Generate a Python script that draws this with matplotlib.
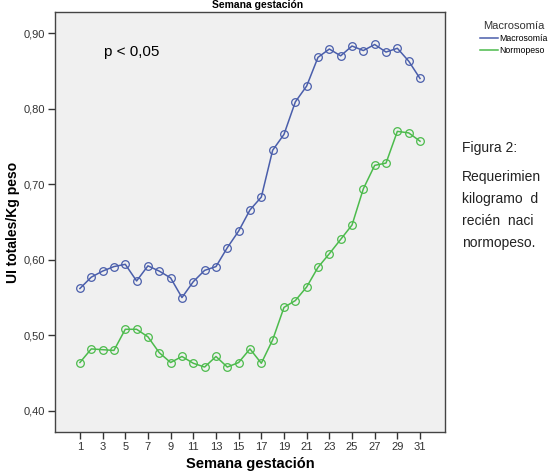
import matplotlib.pyplot as plt

semanas = list(range(1, 32))
macrosomia = [0.562, 0.577, 0.585, 0.591, 0.594, 0.572, 0.592, 0.585, 0.576, 0.550,
              0.571, 0.586, 0.591, 0.616, 0.638, 0.666, 0.683, 0.745, 0.766, 0.809,
              0.830, 0.868, 0.879, 0.870, 0.883, 0.877, 0.885, 0.875, 0.880, 0.863,
              0.840]
normopeso = [0.464, 0.482, 0.481, 0.480, 0.508, 0.508, 0.498, 0.477, 0.464, 0.472,
             0.463, 0.458, 0.472, 0.458, 0.464, 0.482, 0.463, 0.494, 0.537, 0.546,
             0.564, 0.590, 0.608, 0.627, 0.646, 0.694, 0.725, 0.728, 0.770, 0.768,
             0.757]
yticks = [0.40, 0.50, 0.60, 0.70, 0.80, 0.90]
ytick_labels = ["0,40", "0,50", "0,60", "0,70", "0,80", "0,90"]
xticks = list(range(1, 32, 2))

plt.rcParams['font.family'] = ['Liberation Sans', 'DejaVu Sans']

fig = plt.figure(figsize=(5.52, 4.75), dpi=100)
ax = fig.add_axes([0.0996, 0.0905, 0.7065, 0.8842])
ax.set_facecolor('#f0f0f0')

blue = '#4a5eab'
green = '#4cbb4c'
l1, = ax.plot(semanas, macrosomia, color=blue, lw=1.1, marker='o', ms=5.5,
              mfc='none', mec=blue, mew=0.9, label='Macrosomía')
l2, = ax.plot(semanas, normopeso, color=green, lw=1.1, marker='o', ms=5.5,
              mfc='none', mec=green, mew=0.9, label='Normopeso')

ax.set_xlim(-1.2, 33.2)
ax.set_ylim(0.372, 0.928)
ax.set_xticks(xticks)
ax.set_xticklabels([str(x) for x in xticks])
ax.set_yticks(yticks)
ax.set_yticklabels(ytick_labels)
ax.tick_params(axis='both', labelsize=8, colors='#333333', length=5, width=1,
               direction='out', pad=2)
for s in ax.spines.values():
    s.set_color('#444444')
    s.set_linewidth(1)

ax.set_xlabel('Semana gestación', fontsize=10.5, fontweight='bold', labelpad=4)
ax.set_ylabel('UI totales/Kg peso', fontsize=10, fontweight='bold', labelpad=3)

ax.text(0.125, 0.905, 'p < 0,05', transform=ax.transAxes, fontsize=11,
        va='center', ha='left')

# titulo pegado al borde superior
fig.text(258 / 552, 1 - 5 / 475, 'Semana gestación', fontsize=7.5,
         fontweight='bold', ha='center', va='center')

leg = fig.legend(handles=[l1, l2], labels=['Macrosomía', 'Normopeso'],
                 title='Macrosomía', loc='upper left',
                 bbox_to_anchor=(476 / 552, 1 - 17 / 475), frameon=False,
                 fontsize=6.3, title_fontsize=8, handlelength=2.0,
                 handletextpad=0.1, labelspacing=0.3, borderpad=0)
for h in leg.legend_handles:
    h.set_marker('')
leg.get_title().set_color('#333333')

# texto de la figura, tal como se ve (recortado a la derecha)
lineas = ['Figura 2:', 'Requerimien', 'kilogramo  d', 'recién  naci',
          'normopeso.']
ys = [148, 177, 199, 221, 243]
for t, y in zip(lineas, ys):
    fig.text(462 / 552, 1 - y / 475, t, fontsize=10, color='#222222',
             ha='left', va='center')

fig.savefig('out.png', dpi=100)
